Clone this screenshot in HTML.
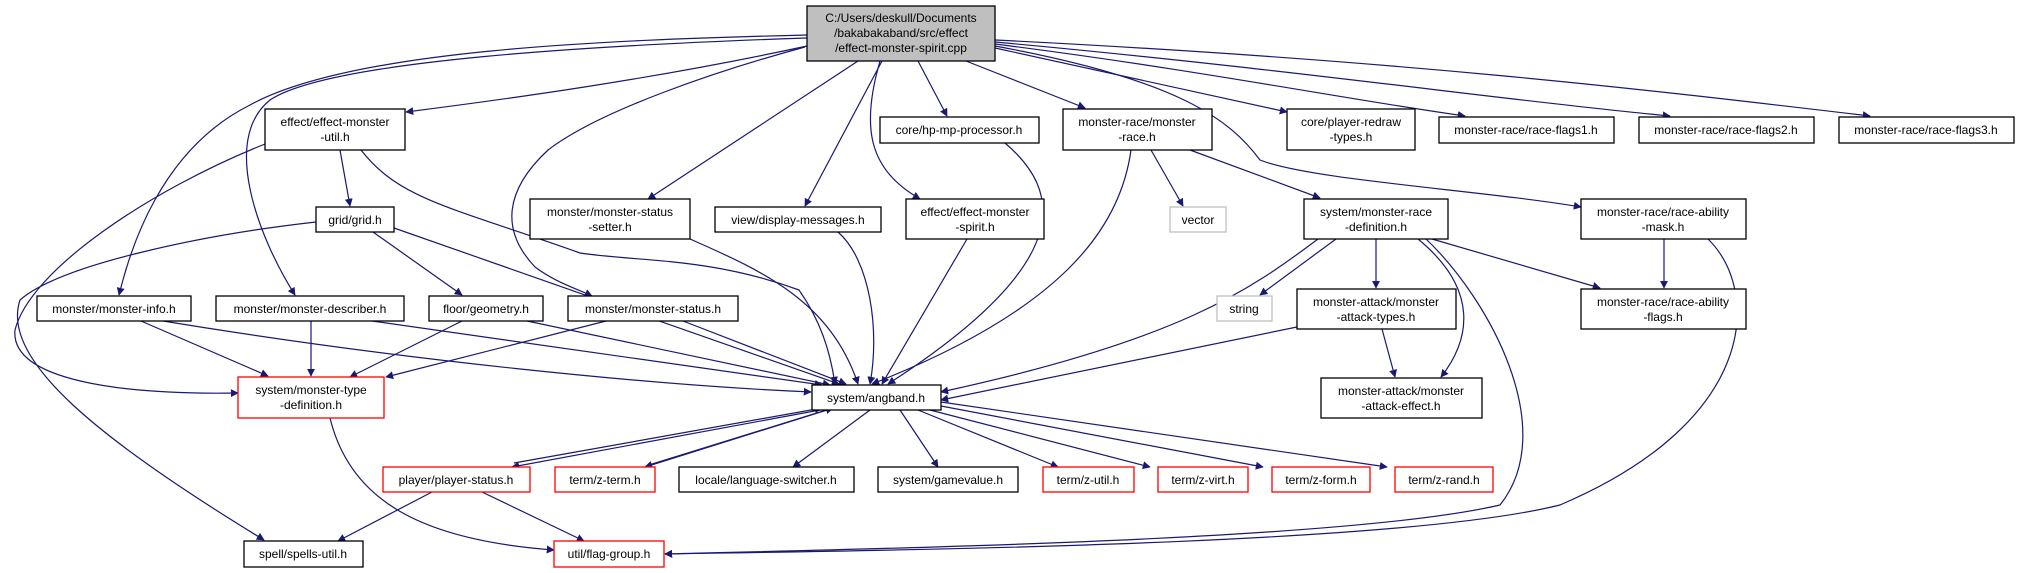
<!DOCTYPE html>
<html><head><meta charset="utf-8"><style>
html,body{margin:0;padding:0;background:#fff;}
svg{display:block;}
text{font-family:"Liberation Sans Narrow","Liberation Sans",sans-serif;font-size:12px;fill:#000;text-anchor:middle;}
.n{fill:#fff;stroke:#000;stroke-width:1.3;}
.r{fill:#fff;stroke:#ff0000;stroke-width:1.3;}
.g{fill:#fff;stroke:#bfbfbf;stroke-width:1.3;}
.e{fill:none;stroke:#191970;stroke-width:1.2;}
</style></head><body>
<svg width="2021" height="573" viewBox="0 0 2021 573" xmlns="http://www.w3.org/2000/svg">
<defs><marker id="a" viewBox="0 0 10 10" refX="9" refY="5" markerWidth="8" markerHeight="8" markerUnits="userSpaceOnUse" orient="auto"><path d="M0,0 L10,5 L0,10 z" fill="#191970"/></marker></defs>
<g marker-end="url(#a)">
<path class="e" d="M807,46 C650,80 500,100 406,112"/>
<path class="e" d="M807,35 C600,40 350,50 250,105 C160,150 130,250 119,295"/>
<path class="e" d="M807,38 C600,45 330,60 270,100 C220,140 260,240 295,295"/>
<path class="e" d="M805,47 C720,70 600,110 548,150 C505,190 500,230 535,267 C555,282 575,288 592,296"/>
<path class="e" d="M858,61 L648,199"/>
<path class="e" d="M882,61 L805,206"/>
<path class="e" d="M880,61 C860,130 870,170 920,199"/>
<path class="e" d="M918,61 L947,116"/>
<path class="e" d="M966,61 L1085,108"/>
<path class="e" d="M995,48 L1287,112"/>
<path class="e" d="M995,44 C1200,70 1350,100 1465,116"/>
<path class="e" d="M995,42 C1300,70 1500,100 1670,116"/>
<path class="e" d="M995,40 C1400,60 1650,90 1870,116"/>
<path class="e" d="M995,46 C1180,80 1230,120 1260,160 C1310,180 1480,190 1581,207"/>
<path class="e" d="M340,150 L350,206"/>
<path class="e" d="M361,150 C400,200 451,207 580,253 C640,262 709,257 799,290 C820,320 830,350 835,384"/>
<path class="e" d="M265,144 C150,190 30,270 15,330 C10,380 120,395 238,393"/>
<path class="e" d="M316,222 C200,235 60,265 20,300 C0,360 100,440 264,540"/>
<path class="e" d="M373,232 L462,295"/>
<path class="e" d="M394,228 L839,384"/>
<path class="e" d="M141,321 L268,376"/>
<path class="e" d="M163,321 C400,360 650,385 811,392"/>
<path class="e" d="M311,321 L311,376"/>
<path class="e" d="M372,321 L822,385"/>
<path class="e" d="M462,321 L350,377"/>
<path class="e" d="M527,321 L830,385"/>
<path class="e" d="M606,321 L386,377"/>
<path class="e" d="M683,321 L846,384"/>
<path class="e" d="M690,239 C760,270 830,300 858,384"/>
<path class="e" d="M838,232 C870,260 880,330 870,384"/>
<path class="e" d="M967,239 L882,384"/>
<path class="e" d="M1005,143 C1060,190 1080,260 888,384"/>
<path class="e" d="M1131,150 C1120,230 1060,310 872,384"/>
<path class="e" d="M1151,150 L1183,206"/>
<path class="e" d="M1190,150 L1320,198"/>
<path class="e" d="M1336,239 L1260,295"/>
<path class="e" d="M1318,239 C1250,290 1180,340 941,392"/>
<path class="e" d="M1376,239 L1376,288"/>
<path class="e" d="M1418,239 C1480,290 1470,340 1441,377"/>
<path class="e" d="M1432,239 L1600,288"/>
<path class="e" d="M1426,239 C1490,300 1560,430 1500,505 C1350,540 900,548 665,554"/>
<path class="e" d="M1664,239 L1664,288"/>
<path class="e" d="M1708,239 C1760,290 1760,420 1560,505 C1400,545 900,550 665,554"/>
<path class="e" d="M1297,327 L941,400"/>
<path class="e" d="M1382,329 L1395,377"/>
<path class="e" d="M330,418 C350,500 420,540 554,550"/>
<path class="e" d="M820,410 L512,467"/>
<path class="e" d="M514,463 L822,408"/>
<path class="e" d="M827,410 L645,467"/>
<path class="e" d="M649,465 L833,408"/>
<path class="e" d="M870,410 L793,467"/>
<path class="e" d="M900,410 L938,467"/>
<path class="e" d="M918,410 L1058,467"/>
<path class="e" d="M930,410 L1150,467"/>
<path class="e" d="M941,406 L1263,467"/>
<path class="e" d="M941,402 L1387,467"/>
<path class="e" d="M432,492 L338,541"/>
<path class="e" d="M482,492 L584,541"/>
</g>
<rect x="807" y="6" width="188" height="55" fill="#bfbfbf" stroke="#000" stroke-width="1.3"/>
<text x="901" y="22">C:/Users/deskull/Documents</text>
<text x="901" y="37">/bakabakaband/src/effect</text>
<text x="901" y="52">/effect-monster-spirit.cpp</text>

<rect class="n" x="265" y="109" width="140" height="41"/><text x="335" y="126">effect/effect-monster</text><text x="335" y="141">-util.h</text>
<rect class="n" x="880" y="117" width="159" height="26"/><text x="959" y="134">core/hp-mp-processor.h</text>
<rect class="n" x="1063" y="109" width="149" height="41"/><text x="1137" y="126">monster-race/monster</text><text x="1137" y="141">-race.h</text>
<rect class="n" x="1287" y="109" width="128" height="41"/><text x="1351" y="126">core/player-redraw</text><text x="1351" y="141">-types.h</text>
<rect class="n" x="1439" y="117" width="175" height="26"/><text x="1526" y="134">monster-race/race-flags1.h</text>
<rect class="n" x="1639" y="117" width="175" height="26"/><text x="1726" y="134">monster-race/race-flags2.h</text>
<rect class="n" x="1839" y="117" width="175" height="26"/><text x="1926" y="134">monster-race/race-flags3.h</text>

<rect class="n" x="316" y="207" width="78" height="25"/><text x="355" y="224">grid/grid.h</text>
<rect class="n" x="530" y="199" width="160" height="40"/><text x="610" y="216">monster/monster-status</text><text x="610" y="231">-setter.h</text>
<rect class="n" x="715" y="207" width="166" height="25"/><text x="798" y="224">view/display-messages.h</text>
<rect class="n" x="906" y="199" width="138" height="40"/><text x="975" y="216">effect/effect-monster</text><text x="975" y="231">-spirit.h</text>
<rect class="g" x="1170" y="207" width="56" height="25"/><text x="1198" y="224">vector</text>
<rect class="n" x="1304" y="199" width="144" height="40"/><text x="1376" y="216">system/monster-race</text><text x="1376" y="231">-definition.h</text>
<rect class="n" x="1581" y="199" width="165" height="40"/><text x="1663" y="216">monster-race/race-ability</text><text x="1663" y="231">-mask.h</text>

<rect class="n" x="37" y="296" width="154" height="25"/><text x="114" y="313">monster/monster-info.h</text>
<rect class="n" x="216" y="296" width="188" height="25"/><text x="310" y="313">monster/monster-describer.h</text>
<rect class="n" x="429" y="296" width="114" height="25"/><text x="486" y="313">floor/geometry.h</text>
<rect class="n" x="568" y="296" width="170" height="25"/><text x="653" y="313">monster/monster-status.h</text>
<rect class="g" x="1217" y="296" width="55" height="25"/><text x="1244" y="313">string</text>
<rect class="n" x="1297" y="289" width="159" height="40"/><text x="1376" y="306">monster-attack/monster</text><text x="1376" y="321">-attack-types.h</text>
<rect class="n" x="1581" y="289" width="165" height="40"/><text x="1663" y="306">monster-race/race-ability</text><text x="1663" y="321">-flags.h</text>

<rect class="r" x="238" y="377" width="146" height="41"/><text x="311" y="394">system/monster-type</text><text x="311" y="409">-definition.h</text>
<rect class="n" x="812" y="385" width="129" height="25"/><text x="876" y="402">system/angband.h</text>
<rect class="n" x="1321" y="378" width="161" height="40"/><text x="1401" y="395">monster-attack/monster</text><text x="1401" y="410">-attack-effect.h</text>

<rect class="r" x="383" y="467" width="147" height="25"/><text x="456" y="484">player/player-status.h</text>
<rect class="r" x="555" y="467" width="100" height="25"/><text x="605" y="484">term/z-term.h</text>
<rect class="n" x="679" y="467" width="175" height="25"/><text x="766" y="484">locale/language-switcher.h</text>
<rect class="n" x="878" y="467" width="140" height="25"/><text x="948" y="484">system/gamevalue.h</text>
<rect class="r" x="1043" y="467" width="91" height="25"/><text x="1088" y="484">term/z-util.h</text>
<rect class="r" x="1158" y="467" width="90" height="25"/><text x="1203" y="484">term/z-virt.h</text>
<rect class="r" x="1272" y="467" width="98" height="25"/><text x="1321" y="484">term/z-form.h</text>
<rect class="r" x="1395" y="467" width="98" height="25"/><text x="1444" y="484">term/z-rand.h</text>

<rect class="n" x="244" y="541" width="119" height="26"/><text x="303" y="558">spell/spells-util.h</text>
<rect class="r" x="554" y="541" width="110" height="26"/><text x="609" y="558">util/flag-group.h</text>
</svg>
</body></html>
